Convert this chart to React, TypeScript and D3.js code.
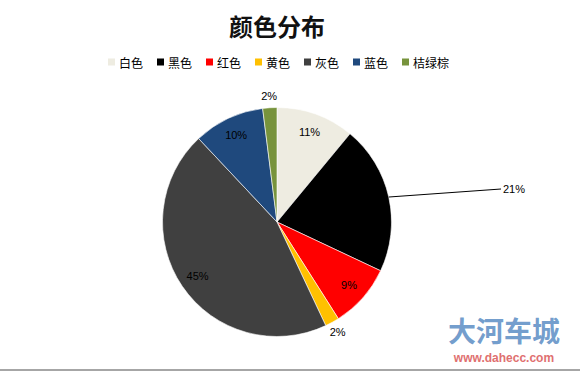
import React from 'react';
import * as d3 from 'd3';

const categories = ['白色', '黑色', '红色', '黄色', '灰色', '蓝色', '桔绿棕'];
const shares = [11, 21, 9, 2, 45, 10, 2];
const colors = ['#EEECE1', '#000000', '#FF0000', '#FFC000', '#404040', '#1F497D', '#77933C'];
const title = '颜色分布';

interface Slice {
  name: string;
  value: number;
}

const slices: Slice[] = categories.map((name, i) => ({ name, value: shares[i] }));

const width = 580;
const height = 371;
const cx = 277;
const cy = 222;
const radius = 114.5;

const App: React.FC = () => {
  const pie = d3.pie<Slice>().value(d => d.value).sort(null);
  const arcs = pie(slices);
  const arcGen = d3.arc<d3.PieArcDatum<Slice>>().innerRadius(0).outerRadius(radius);
  const color = d3.scaleOrdinal<string, string>().domain(categories).range(colors);

  const pointAt = (a: number, r: number) => [Math.sin(a) * r, -Math.cos(a) * r];

  const legendX = d3.scalePoint<string>().domain(categories).range([108, 402]);

  return (
    <svg
      width={width}
      height={height}
      style={{ position: 'absolute', left: 0, top: 0, background: '#fff' }}
      fontFamily="'Noto Sans CJK SC', 'Noto Sans', sans-serif"
    >
      <text
        x={277}
        y={25}
        textAnchor="middle"
        dominantBaseline="central"
        fontSize={24}
        fontWeight="bold"
        fill="#111"
      >
        {title}
      </text>

      <g>
        {categories.map(c => (
          <g key={c} transform={`translate(${legendX(c)},62)`}>
            <rect x={0} y={-3.5} width={7} height={7} fill={color(c)} />
            <text x={11} y={0} dominantBaseline="central" fontSize={12} fill="#000">
              {c}
            </text>
          </g>
        ))}
      </g>

      <g transform={`translate(${cx},${cy})`}>
        {arcs.map(a => (
          <path
            key={a.data.name}
            d={arcGen(a) || ''}
            fill={color(a.data.name)}
            stroke="#fff"
            strokeWidth={0.6}
          />
        ))}
        {arcs.map(a => {
          const mid = (a.startAngle + a.endAngle) / 2;
          const label = `${a.data.value}%`;
          if (a.data.name === '黑色') {
            const [x0, y0] = pointAt(mid, radius);
            return (
              <g key={a.data.name}>
                <line x1={x0} y1={y0} x2={224} y2={-33} stroke="#000" strokeWidth={1} />
                <text x={226} y={-33} dominantBaseline="central" fontSize={11} fill="#000"
                  fontFamily="'Liberation Sans', sans-serif">
                  {label}
                </text>
              </g>
            );
          }
          const outside = a.data.value < 5;
          const [x, y] = pointAt(mid, outside ? 126 : 96);
          return (
            <text
              key={a.data.name}
              x={x}
              y={y}
              textAnchor="middle"
              dominantBaseline="central"
              fontSize={11}
              fill="#000"
              fontFamily="'Liberation Sans', sans-serif"
            >
              {label}
            </text>
          );
        })}
      </g>

      <text x={504} y={330} textAnchor="middle" dominantBaseline="central" fontSize={28}
        fontWeight="bold" fill="#5B8DC4" fillOpacity={0.85}>
        大河车城
      </text>
      <text x={504} y={358} textAnchor="middle" dominantBaseline="central" fontSize={12}
        fontWeight="bold" fill="#E07070" fontFamily="'Liberation Sans', sans-serif">
        www.dahecc.com
      </text>

      <line x1={0} x2={width} y1={370} y2={370} stroke="#888" strokeWidth={1.5} />
    </svg>
  );
};

export default App;
